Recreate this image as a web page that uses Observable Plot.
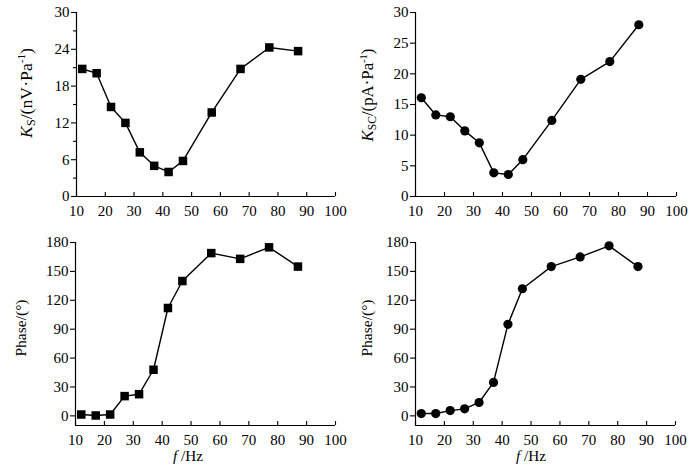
<!DOCTYPE html>
<html>
<head>
<meta charset="utf-8">
<script src="https://cdn.jsdelivr.net/npm/d3@7"></script>
<script src="https://cdn.jsdelivr.net/npm/@observablehq/plot@0.6"></script>
<style>
  html, body { margin: 0; padding: 0; background: #fff; }
  #wrap { position: relative; width: 696px; height: 473px; background: #fff; overflow: hidden; }
  #wrap svg { position: absolute; max-width: none; }
</style>
</head>
<body>
<div id="wrap"></div>
<script>
// ---- data ----
const freq = [12, 17, 22, 27, 32, 37, 42, 47, 57, 67, 77, 87];
const ksValues = [20.8, 20.1, 14.6, 12.0, 7.2, 5.0, 4.0, 5.8, 13.7, 20.8, 24.3, 23.7];
const kscValues = [16.1, 13.3, 13.0, 10.7, 8.75, 3.86, 3.59, 6.0, 12.4, 19.1, 22.0, 28.0];
const phaseKs = [1.4, 0.4, 1.4, 20.5, 22.5, 47.9, 112, 140, 169, 163, 175, 155];
const phaseKsc = [2.4, 2.4, 5.5, 7.3, 13.9, 34.7, 95, 132, 155, 165, 176.5, 155];

const xTicks = [10, 20, 30, 40, 50, 60, 70, 80, 90, 100];
const ksTicks = [0, 6, 12, 18, 24, 30];
const ksMinor = [3, 9, 15, 21, 27];
const kscTicks = [0, 5, 10, 15, 20, 25, 30];
const phaseTicks = [0, 30, 60, 90, 120, 150, 180];

const wrap = document.getElementById("wrap");
const font = "'Liberation Serif', 'Times New Roman', serif";

function fit(sel, target, baseTransform) {
  const w = sel.node().getBBox().width;
  const k = w > 0 ? target / w : 1;
  sel.attr("transform", `${baseTransform} scale(${k})`);
}

function panel(o) {
  const data = freq.map((f, i) => ({f, v: o.values[i]}));
  const innerH = o.height - o.marginTop - o.marginBottom;
  const svg = Plot.plot({
    width: o.width, height: o.height,
    marginLeft: o.marginLeft, marginRight: o.marginRight,
    marginTop: o.marginTop, marginBottom: o.marginBottom,
    x: {domain: [10, 100]},
    y: {domain: o.yDomain},
    style: {fontFamily: font, fontSize: "15px", color: "black", background: "white", overflow: "visible"},
    marks: [
      Plot.ruleX([10], {stroke: "black", strokeWidth: 1.2}),
      Plot.ruleY([o.yDomain[0]], {stroke: "black", strokeWidth: 1.2}),
      Plot.axisX({ticks: xTicks, tickSize: 0, tickPadding: 9, label: null, fontSize: 15, fill: "black"}),
      Plot.tickX(xTicks, {x: d => d, insetTop: innerH - 4, stroke: "black", strokeWidth: 1.1}),
      Plot.axisY({ticks: o.yTicks, tickSize: 5, tickPadding: 2, label: null, fontSize: 15, fill: "black", strokeWidth: 1.1}),
      o.yMinor ? Plot.axisY({ticks: o.yMinor, tickSize: 3, tickFormat: () => "", label: null, strokeWidth: 1.1}) : null,
      Plot.line(data, {x: "f", y: "v", stroke: "black", strokeWidth: 1.4}),
      Plot.dot(data, {x: "f", y: "v", symbol: o.symbol, r: o.r, fill: "black", stroke: "none"})
    ]
  });
  svg.style.left = o.left + "px";
  svg.style.top = o.top + "px";
  wrap.appendChild(svg);
  const s = d3.select(svg);
  // y label
  const yBase = `translate(${o.yLabelX},${o.yLabelY}) rotate(-90)`;
  const yl = s.append("text")
    .attr("transform", yBase)
    .attr("text-anchor", "middle")
    .style("font-family", font).style("font-size", "16px").attr("fill", "black");
  o.yLabel(yl);
  fit(yl, o.yLabelLen, yBase);
  // x label
  if (o.xLabel) {
    const xBase = `translate(${o.xLabelX},${o.xLabelY})`;
    const xl = s.append("text")
      .attr("transform", xBase)
      .attr("text-anchor", "middle")
      .style("font-family", font).style("font-size", "16px").attr("fill", "black");
    xl.append("tspan").style("font-style", "italic").text("f");
    xl.append("tspan").text(" /Hz");
    fit(xl, o.xLabelLen, xBase);
  }
}

function kLabel(sub, unit) {
  return (t) => {
    t.append("tspan").style("font-style", "italic").text("K");
    t.append("tspan").style("font-size", "11px").attr("dy", 3).text(sub);
    t.append("tspan").attr("dy", -3).text("/(" + unit + "·Pa");
    t.append("tspan").style("font-size", "10px").attr("dy", -6).text("-1");
    t.append("tspan").attr("dy", 6).text(")");
  };
}
function phaseLabel(t) { t.text("Phase/(°)"); }

panel({left: 0, top: 0, width: 348, height: 236, marginLeft: 76, marginRight: 13, marginTop: 12, marginBottom: 40,
  values: ksValues, yDomain: [0, 30], yTicks: ksTicks, yMinor: ksMinor, symbol: "square", r: 4.8,
  yLabel: kLabel("S", "nV"), yLabelX: 32, yLabelY: 93, yLabelLen: 91});
panel({left: 348, top: 0, width: 348, height: 236, marginLeft: 67, marginRight: 20, marginTop: 12, marginBottom: 40,
  values: kscValues, yDomain: [0, 30], yTicks: kscTicks, symbol: "circle", r: 4.6,
  yLabel: kLabel("SC", "pA"), yLabelX: 25, yLabelY: 95, yLabelLen: 94});
panel({left: 0, top: 236, width: 348, height: 237, marginLeft: 75, marginRight: 13, marginTop: 6, marginBottom: 48,
  values: phaseKs, yDomain: [-10, 180], yTicks: phaseTicks, symbol: "square", r: 4.8,
  yLabel: phaseLabel, yLabelX: 26, yLabelY: 92, yLabelLen: 57,
  xLabel: true, xLabelX: 188, xLabelY: 225, xLabelLen: 30});
panel({left: 348, top: 236, width: 348, height: 237, marginLeft: 67, marginRight: 21, marginTop: 6, marginBottom: 48,
  values: phaseKsc, yDomain: [-10, 180], yTicks: phaseTicks, symbol: "circle", r: 4.6,
  yLabel: phaseLabel, yLabelX: 24, yLabelY: 92, yLabelLen: 57,
  xLabel: true, xLabelX: 183, xLabelY: 225, xLabelLen: 30});
</script>
</body>
</html>
